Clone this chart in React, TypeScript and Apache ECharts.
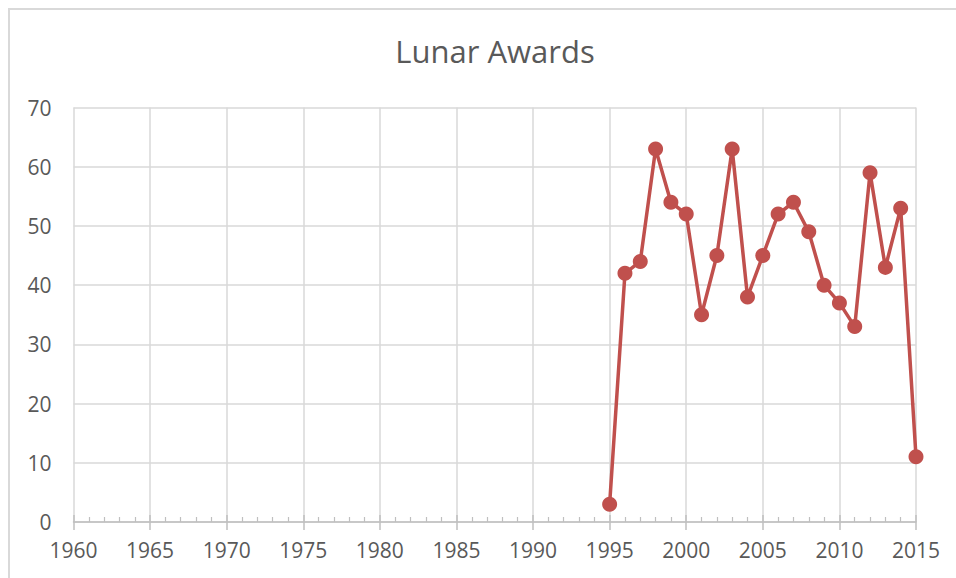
import React, { useEffect, useRef } from "react";
import * as echarts from "echarts";

const years: number[] = [1995, 1996, 1997, 1998, 1999, 2000, 2001, 2002, 2003, 2004, 2005, 2006, 2007, 2008, 2009, 2010, 2011, 2012, 2013, 2014, 2015];
const awards: number[] = [3, 42, 44, 63, 54, 52, 35, 45, 63, 38, 45, 52, 54, 49, 40, 37, 33, 59, 43, 53, 11];
const chartTitle = "Lunar Awards";
const xMin = 1960;
const xMax = 2015;
const yMin = 0;
const yMax = 70;

export default function App() {
  const ref = useRef<HTMLDivElement>(null);
  useEffect(() => {
    document.body.style.margin = "0";
    if (!ref.current) return;
    const chart = echarts.init(ref.current, null, { renderer: "svg" });
    const font = "'Open Sans', 'Noto Sans', sans-serif";
    const textColor = "#595959";
    const gridColor = "#d9d9d9";
    const axisColor = "#bfbfbf";
    chart.setOption({
      animation: false,
      backgroundColor: "#ffffff",
      title: {
        text: chartTitle,
        left: 490,
        top: 27,
        textAlign: "center",
        textStyle: {
          fontFamily: font,
          fontSize: 31,
          fontWeight: "normal",
          color: textColor,
          lineHeight: 38,
        },
      },
      graphic: [
        {
          type: "rect",
          shape: { x: 9, y: 9, width: 1000, height: 600 },
          style: { fill: "none", stroke: "#d9d9d9", lineWidth: 2 },
          silent: true,
          z: -1,
        },
      ],
      grid: { left: 73.5, right: 40, top: 107.5, bottom: 56, containLabel: false },
      xAxis: [
        {
          type: "value",
          min: xMin,
          max: xMax,
          interval: 5,
          axisLine: { show: true, lineStyle: { color: axisColor, width: 1.5 } },
          axisTick: { show: true, inside: true, length: 7, lineStyle: { color: axisColor, width: 1.5 } },
          minorTick: { show: true, splitNumber: 5, length: 5, lineStyle: { color: axisColor, width: 1.2 } },
          splitLine: { show: true, lineStyle: { color: gridColor, width: 1.5 } },
          axisLabel: {
            color: textColor,
            fontFamily: font,
            fontSize: 21,
            margin: 17,
            formatter: (v: number) => String(v),
          },
        },
        {
          type: "value",
          min: xMin,
          max: xMax,
          interval: 5,
          position: "bottom",
          axisLine: { show: false },
          axisTick: { show: true, inside: false, length: 8, lineStyle: { color: axisColor, width: 1.5 } },
          splitLine: { show: false },
          axisLabel: { show: false },
        },
      ],
      yAxis: {
        type: "value",
        min: yMin,
        max: yMax,
        interval: 10,
        axisLine: { show: false },
        axisTick: { show: false },
        splitLine: { show: true, lineStyle: { color: gridColor, width: 1.5 } },
        axisLabel: {
          color: textColor,
          fontFamily: font,
          fontSize: 21,
          margin: 22,
        },
      },
      series: [
        {
          type: "line",
          xAxisIndex: 0,
          data: years.map((y, i) => [y, awards[i]]),
          symbol: "circle",
          symbolSize: 15,
          lineStyle: { color: "#c0504d", width: 3.5 },
          itemStyle: { color: "#c0504d" },
          z: 5,
        },
      ],
    });
    return () => chart.dispose();
  }, []);
  return <div ref={ref} style={{ width: 956, height: 578 }} />;
}
